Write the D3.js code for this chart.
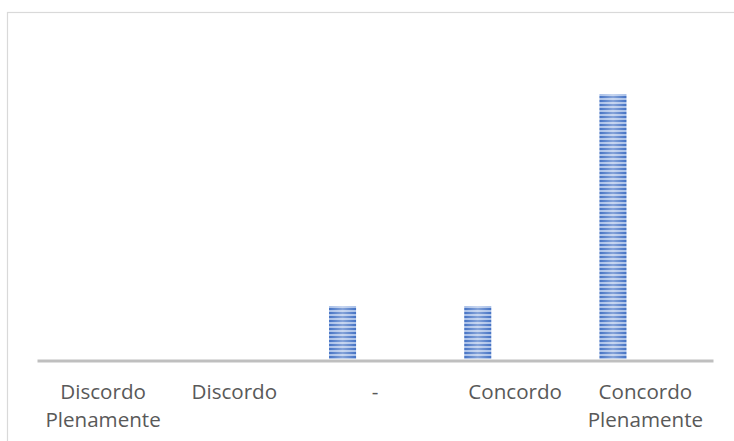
<!DOCTYPE html>
<html>
<head>
<meta charset="utf-8">
<script src="https://cdn.jsdelivr.net/npm/d3@7"></script>
<style>
  html, body { margin: 0; padding: 0; background: #fff; }
  svg { display: block; }
</style>
</head>
<body>
<div id="chart"></div>
<script>
// chart data
const categories = ["Discordo Plenamente", "Discordo", "-", "Concordo", "Concordo Plenamente"];
const labelLines = [["Discordo", "Plenamente"], ["Discordo"], ["-"], ["Concordo"], ["Concordo", "Plenamente"]];
const labelNudge = [-1.5, -5.5, 0, 5, 0]; // the source's labels sit a bit off-centre
const values = [0, 0, 1, 1, 5];
const series = ["s1", "s2", "s3"]; // only the first one carries values

const W = 734, H = 441;
const margin = { left: 37, right: 21, top: 41, bottom: 82 };

const svg = d3.select("#chart")
  .append("svg")
  .attr("width", W)
  .attr("height", H);

// bar fill: horizontal stripes with a soft lighter centre
const defs = svg.append("defs");
const pat = defs.append("pattern")
  .attr("id", "stripes")
  .attr("patternUnits", "userSpaceOnUse")
  .attr("width", 8)
  .attr("height", 4);
pat.append("rect").attr("width", 8).attr("height", 4).attr("fill", "#a9c0e8");
pat.append("rect").attr("width", 8).attr("height", 2).attr("fill", "#4472c4");

const grad = defs.append("linearGradient")
  .attr("id", "shine")
  .attr("x1", "0%").attr("x2", "100%").attr("y1", "0%").attr("y2", "0%");
grad.append("stop").attr("offset", "0%").attr("stop-color", "#fff").attr("stop-opacity", 0);
grad.append("stop").attr("offset", "50%").attr("stop-color", "#fff").attr("stop-opacity", 0.35);
grad.append("stop").attr("offset", "100%").attr("stop-color", "#fff").attr("stop-opacity", 0);

// chart frame (runs off the right and bottom edges)
svg.append("rect")
  .attr("x", 7.5)
  .attr("y", 12.5)
  .attr("width", W)
  .attr("height", H)
  .attr("fill", "none")
  .attr("stroke", "#d9d9d9")
  .attr("stroke-width", 1.2);

const xScale = d3.scaleBand()
  .domain(categories)
  .range([margin.left, W - margin.right])
  .padding(0);

const xInner = d3.scaleBand()
  .domain(series)
  .range([0, xScale.bandwidth()])
  .paddingInner(0)
  .paddingOuter(1)
  .align(0.4);

const yScale = d3.scaleLinear()
  .domain([0, 6])
  .range([H - margin.bottom, margin.top]);

const bars = svg.append("g")
  .selectAll("g.bar")
  .data(categories.map((c, i) => ({ c, v: values[i] })).filter((d) => d.v > 0))
  .enter()
  .append("g")
  .attr("class", "bar");

bars.append("rect")
  .attr("x", (d) => xScale(d.c) + xInner("s1"))
  .attr("y", (d) => yScale(d.v))
  .attr("width", xInner.bandwidth())
  .attr("height", (d) => yScale(0) - yScale(d.v))
  .attr("fill", "url(#stripes)");

bars.append("rect")
  .attr("x", (d) => xScale(d.c) + xInner("s1"))
  .attr("y", (d) => yScale(d.v))
  .attr("width", xInner.bandwidth())
  .attr("height", (d) => yScale(0) - yScale(d.v))
  .attr("fill", "url(#shine)");

// category axis
const xAxis = svg.append("g")
  .attr("transform", `translate(0,${yScale(0) + 1.5})`)
  .call(d3.axisBottom(xScale).tickSize(0).tickFormat(""));
xAxis.select(".domain")
  .attr("stroke", "#bfbfbf")
  .attr("stroke-width", 3);

const labels = svg.append("g")
  .selectAll("text")
  .data(categories)
  .enter()
  .append("text")
  .attr("x", (d, i) => xScale(d) + xScale.bandwidth() / 2 + labelNudge[i])
  .attr("y", 398.5)
  .attr("text-anchor", "middle")
  .attr("font-family", "'Open Sans', sans-serif")
  .attr("font-size", "20.6px")
  .attr("fill", "#595959");

labels.selectAll("tspan")
  .data((d, i) => labelLines[i])
  .enter()
  .append("tspan")
  .attr("x", function () { return d3.select(this.parentNode).attr("x"); })
  .attr("dy", (d, i) => (i === 0 ? 0 : 28.5))
  .text((d) => d);
</script>
</body>
</html>
